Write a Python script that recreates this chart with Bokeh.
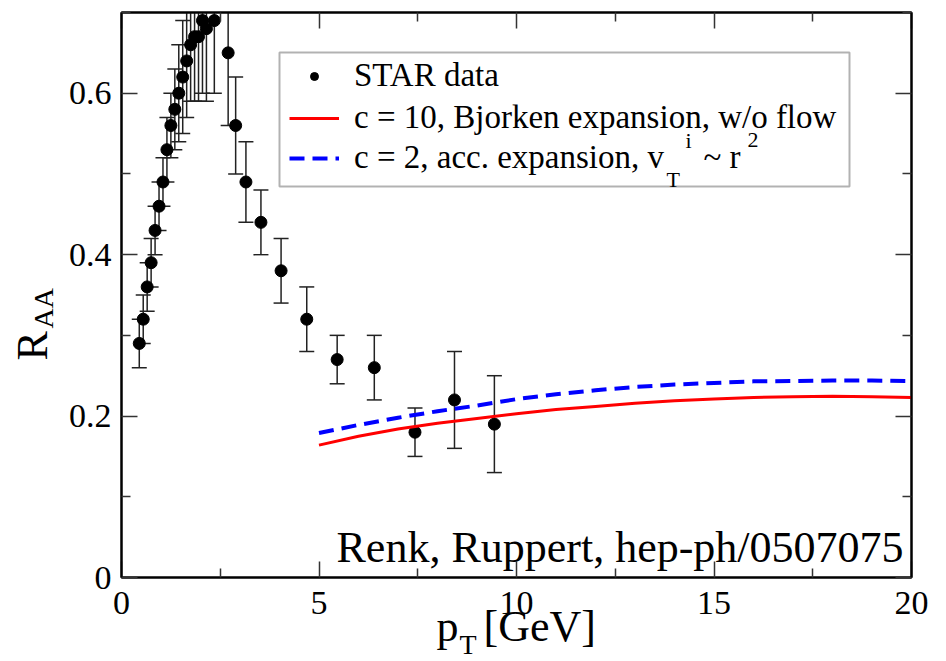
import math
from bokeh.plotting import figure
from bokeh.layouts import column, row
from bokeh.models import (Range1d, LinearAxis, FixedTicker, Label, Legend, LegendItem,
                          BoxAnnotation)
from bokeh.embed import file_html
from bokeh.resources import INLINE

# ---- data ----
star_pt = [0.45, 0.55, 0.65, 0.75, 0.85, 0.95, 1.05, 1.15, 1.25, 1.35, 1.45, 1.55, 1.65,
           1.75, 1.85, 1.95, 2.05, 2.15, 2.35, 2.70, 2.89, 3.15, 3.53, 4.04, 4.69, 5.46,
           6.40, 7.43, 8.43, 9.44]
star_raa = [0.29, 0.32, 0.36, 0.39, 0.43, 0.46, 0.49, 0.53, 0.56, 0.58, 0.60, 0.62, 0.64,
            0.66, 0.67, 0.67, 0.69, 0.68, 0.69, 0.65, 0.56, 0.49, 0.44, 0.38, 0.32, 0.27,
            0.26, 0.18, 0.22, 0.19]
star_err = [0.03, 0.03, 0.03, 0.03, 0.03, 0.03, 0.03, 0.04, 0.04, 0.05, 0.06, 0.07, 0.07,
            0.07, 0.08, 0.08, 0.09, 0.09, 0.09, 0.09, 0.06, 0.05, 0.04, 0.04, 0.04, 0.03,
            0.04, 0.03, 0.06, 0.06]

curve_pt = [5, 6, 7, 8, 9, 10, 11, 12, 13, 14, 15, 16, 17, 18, 19, 20]
raa_bjorken = [0.164, 0.175, 0.184, 0.191, 0.197, 0.203, 0.208, 0.212, 0.216, 0.219,
               0.221, 0.223, 0.224, 0.2245, 0.224, 0.223]
raa_acc = [0.179, 0.189, 0.198, 0.206, 0.213, 0.221, 0.227, 0.232, 0.236, 0.239,
           0.241, 0.243, 0.2435, 0.244, 0.244, 0.2435]

x_ticks = [0, 5, 10, 15, 20]
x_minor = [2.5, 7.5, 12.5, 17.5]
x_tick_labels = ["0", "5", "10", "15", "20"]
y_ticks = [0, 0.2, 0.4, 0.6]
y_minor = [0.1, 0.3, 0.5, 0.7]
y_tick_labels = ["0", "0.2", "0.4", "0.6"]

FONT = "Liberation Serif"

# page geometry (canvas px)
W, H = 946, 661
STRIP = 64                      # left strip holding the y-axis title
FL, FT, FR, FB = 121, 12, 911, 577   # plot frame
MW = W - STRIP                  # width of the main figure


def sx(X):
    return X - FL


def sy(Y):
    return FB - Y


p = figure(width=MW, height=H, output_backend="svg", toolbar_location=None,
           x_range=Range1d(0, 20), y_range=Range1d(0, 0.7),
           min_border_left=FL - STRIP, min_border_right=W - FR, min_border_top=FT,
           min_border_bottom=H - FB, x_axis_location=None, y_axis_location=None)
p.grid.visible = False
p.outline_line_color = "black"
p.outline_line_width = 2
p.background_fill_color = "white"
p.border_fill_color = "white"

xt = FixedTicker(ticks=x_ticks, minor_ticks=x_minor)
yt = FixedTicker(ticks=y_ticks, minor_ticks=y_minor)


def style_axis(ax):
    ax.axis_line_width = 2
    ax.axis_line_color = "black"
    ax.major_tick_in = 16
    ax.major_tick_out = 0
    ax.minor_tick_in = 9
    ax.minor_tick_out = 0
    ax.major_tick_line_width = 1.5
    ax.minor_tick_line_width = 1.5
    ax.major_tick_line_color = "#333333"
    ax.minor_tick_line_color = "#333333"
    ax.major_label_text_font = FONT
    ax.major_label_text_font_size = "34px"
    ax.major_label_text_color = "black"


xb = LinearAxis(ticker=xt, major_label_overrides={t: l for t, l in zip(x_ticks, x_tick_labels)})
style_axis(xb)
xb.major_label_standoff = 14
p.add_layout(xb, "below")

yl = LinearAxis(ticker=yt, major_label_overrides={t: l for t, l in zip(y_ticks, y_tick_labels)})
style_axis(yl)
yl.major_label_standoff = 10
p.add_layout(yl, "left")

xa = LinearAxis(ticker=xt, major_label_overrides={t: "" for t in x_ticks})
style_axis(xa)
xa.major_label_standoff = 0
p.add_layout(xa, "above")
yr = LinearAxis(ticker=yt, major_label_overrides={t: "" for t in y_ticks})
style_axis(yr)
yr.major_label_standoff = 0
p.add_layout(yr, "right")

# error bars (clipped glyphs)
lower = [v - e for v, e in zip(star_raa, star_err)]
upper = [v + e for v, e in zip(star_raa, star_err)]
EB = "#222222"
p.segment(x0=star_pt, y0=lower, x1=star_pt, y1=upper, line_color=EB, line_width=1.5)
p.scatter(star_pt, lower, marker="dash", size=15, line_color=EB, line_width=1.5)
p.scatter(star_pt, upper, marker="dash", size=15, line_color=EB, line_width=1.5)

pts = p.scatter(star_pt, star_raa, size=12, color="black")
r_red = p.line(curve_pt, raa_bjorken, line_color="#ff0000", line_width=3)
r_blue = p.line(curve_pt, raa_acc, line_color="#0000ff", line_width=4, line_dash="15 8")

# legend box
box = BoxAnnotation(left=sx(279), right=sx(849), top=sy(52), bottom=sy(186),
                    left_units="screen", right_units="screen", top_units="screen",
                    bottom_units="screen", fill_color="white", fill_alpha=1.0,
                    line_color="black", line_width=2)
p.add_layout(box)

LEG_H = 38


def add_leg(label, rend, yc):
    leg = Legend(items=[LegendItem(label=label, renderers=[rend])],
                 location=(sx(289), sy(yc) - LEG_H / 2), padding=0, margin=0, spacing=0,
                 glyph_width=50, glyph_height=20, label_standoff=15, label_height=20,
                 border_line_color=None, background_fill_alpha=0,
                 label_text_font=FONT, label_text_font_size="33px", label_text_color="black")
    p.add_layout(leg)


add_leg("STAR data", pts, 75)
add_leg("c = 10, Bjorken expansion, w/o flow", r_red, 117)
add_leg("c = 2, acc. expansion, v", r_blue, 157)


def text_fig(width, height, xr, yr_, borders):
    f = figure(width=width, height=height, output_backend="svg", toolbar_location=None,
               x_range=Range1d(*xr), y_range=Range1d(*yr_),
               min_border_left=borders[0], min_border_right=borders[1],
               min_border_top=borders[2], min_border_bottom=borders[3],
               x_axis_location=None, y_axis_location=None)
    f.grid.visible = False
    f.outline_line_color = None
    f.background_fill_color = None
    f.border_fill_color = None
    return f


# transparent overlay on top of the main figure; frame = plot frame horizontally,
# full height vertically; data coordinates == canvas pixels
ovA = text_fig(MW, H, (FL, FR), (0, H), (FL - STRIP, W - FR, 0, 0))
ovA.margin = (-H, 0, 0, 0)

# left strip for the y-axis title; frame = plot frame vertically
ovY = text_fig(STRIP, H, (0, STRIP), (H - FB, H - FT), (0, 0, FT, H - FB))

BASE = 0.34  # distance from text middle to alphabetic baseline, in em


def lab(f, text, X, Yb, size, angle=0.0):
    if angle == 0.0:
        x, y = X, H - (Yb - BASE * size)
    else:
        x, y = X - BASE * size, H - Yb
    f.add_layout(Label(x=x, y=y, text=text, text_font=FONT, text_font_size=f"{size}px",
                       text_color="black", text_align="left", text_baseline="middle",
                       angle=angle))


# sub/superscripts of the legend's third entry
lab(ovA, "T", 666, 186, 22)
lab(ovA, "i", 685, 147, 22)
lab(ovA, "~ r", 703, 168, 33)
lab(ovA, "2", 747, 147, 22)

# annotation
lab(ovA, "Renk, Ruppert, hep-ph/0507075", 336, 562, 44)

# x-axis title: p_T [GeV]
lab(ovA, "p", 436, 641, 44)
lab(ovA, "T", 459, 654, 28)
lab(ovA, "[GeV]", 483, 641, 44)

# y-axis title: R_AA (rotated)
lab(ovY, "R", 47, 360, 44, angle=math.pi / 2)
lab(ovY, "AA", 53, 328, 28, angle=math.pi / 2)

layout = row(ovY, column(p, ovA, spacing=0), spacing=0)
open("out.html", "w").write(file_html(layout, INLINE))
